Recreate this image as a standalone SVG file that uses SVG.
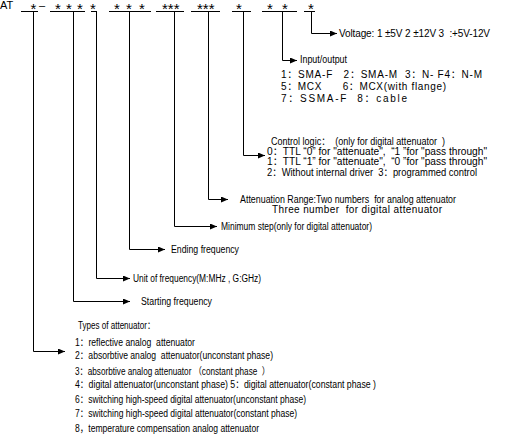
<svg xmlns="http://www.w3.org/2000/svg" width="505" height="442" viewBox="0 0 505 442" xml:space="preserve">
<style>
text{font-family:"Liberation Sans","Noto Sans CJK SC",Arial,sans-serif;font-size:10px;fill:#000;white-space:pre}
.st{font-size:15px}
.ln{stroke:#000;stroke-width:1;fill:none}
</style>
<defs>
<marker id="ah" markerUnits="userSpaceOnUse" markerWidth="8" markerHeight="6" refX="7" refY="3" orient="auto">
<path d="M0,0 L7,3 L0,6 Z" fill="#000"/>
</marker>
</defs>
<rect width="505" height="442" fill="#fff"/>
<g id="code">
<text x="0" y="9" style="font-size:11px">AT</text>
<text x="39" y="9" style="font-size:11px">–</text>
<text class="st" x="30.5" y="14">*</text>
<text class="st" x="55" y="14">*</text>
<text class="st" x="66" y="14">*</text>
<text class="st" x="77" y="14">*</text>
<text class="st" x="90" y="14">*</text>
<text class="st" x="114" y="14">*</text>
<text class="st" x="126" y="14">*</text>
<text class="st" x="139" y="14">*</text>
<text class="st" x="162" y="14">***</text>
<text class="st" x="197" y="14">***</text>
<text class="st" x="236" y="14">*</text>
<text class="st" x="267" y="14">*</text>
<text class="st" x="282" y="14">*</text>
<text class="st" x="308" y="14">*</text>
<path class="ln" d="M21,11.5H38M50,11.5H85M91,11.5H97M109,11.5H151M156,11.5H184M191,11.5H220M232,11.5H251M262,11.5H297M304,11.5H315"/>
</g>
<g id="connectors">
<path class="ln" marker-end="url(#ah)" d="M311.5,11.5V33.5H337"/>
<path class="ln" marker-end="url(#ah)" d="M282.5,11.5V60.5H297"/>
<path class="ln" marker-end="url(#ah)" d="M243.5,11.5V155.5H265"/>
<path class="ln" marker-end="url(#ah)" d="M208.5,11.5V199.5H228"/>
<path class="ln" marker-end="url(#ah)" d="M174.5,11.5V226.5H217"/>
<path class="ln" marker-end="url(#ah)" d="M129.5,11.5V249.5H165"/>
<path class="ln" marker-end="url(#ah)" d="M96.5,11.5V278.5H130"/>
<path class="ln" marker-end="url(#ah)" d="M73.5,11.5V301.5H130"/>
<path class="ln" marker-end="url(#ah)" d="M33.5,11.5V351.5H65"/>
</g>
<g id="voltage">
<text x="339" y="37" textLength="151" lengthAdjust="spacing">Voltage: 1 ±5V 2 ±12V 3  :+5V-12V</text>
</g>
<g id="io">
<text x="300" y="63" textLength="47" lengthAdjust="spacingAndGlyphs">Input/output</text>
<text x="281" y="77.5" textLength="201" lengthAdjust="spacing">1：SMA-F   2：SMA-M  3：N- F4：N-M</text>
<text x="281" y="89.5" textLength="165" lengthAdjust="spacing">5：MCX      6：MCX(with flange)</text>
<text x="281" y="101.5" textLength="126" lengthAdjust="spacing">7：SSMA-F  8：cable</text>
</g>
<g id="control">
<text x="271" y="144.5" textLength="174" lengthAdjust="spacingAndGlyphs">Control logic：  (only for digital attenuator  )</text>
<text x="267" y="155" textLength="220" lengthAdjust="spacingAndGlyphs">0：TTL “0” for "attenuate",  “1 ”for "pass through"</text>
<text x="267" y="165" textLength="220" lengthAdjust="spacingAndGlyphs">1：TTL “1” for "attenuate",  “0 ”for "pass through"</text>
<text x="267" y="175.5" textLength="210" lengthAdjust="spacingAndGlyphs">2：Without internal driver  3：programmed control</text>
</g>
<g id="range">
<text x="240" y="202.5" textLength="216" lengthAdjust="spacingAndGlyphs">Attenuation Range:Two numbers  for analog attenuator</text>
<text x="272" y="212.5" textLength="170" lengthAdjust="spacing">Three number  for digital attenuator</text>
</g>
<g id="step">
<text x="221" y="229.5" textLength="151" lengthAdjust="spacingAndGlyphs">Minimum step(only for digital attenuator)</text>
</g>
<g id="ending">
<text x="171" y="252.5" textLength="68" lengthAdjust="spacingAndGlyphs">Ending frequency</text>
</g>
<g id="unit">
<text x="133" y="281.5" textLength="128" lengthAdjust="spacingAndGlyphs">Unit of frequency(M:MHz , G:GHz)</text>
</g>
<g id="starting">
<text x="141" y="304.5" textLength="71" lengthAdjust="spacingAndGlyphs">Starting frequency</text>
</g>
<g id="types">
<text x="78" y="328.5" textLength="77" lengthAdjust="spacingAndGlyphs">Types of attenuator：</text>
<text x="75" y="345.5" textLength="120" lengthAdjust="spacingAndGlyphs">1：reflective analog  attenuator</text>
<text x="75" y="358.5" textLength="198" lengthAdjust="spacingAndGlyphs">2：absorbtive analog  attenuator(unconstant phase)</text>
<text x="75" y="374.5" textLength="195" lengthAdjust="spacingAndGlyphs">3：absorbtive analog attenuator （constant phase  ）</text>
<text x="75" y="387.5" textLength="301" lengthAdjust="spacingAndGlyphs">4：digital attenuator(unconstant phase) 5：digital attenuator(constant phase )</text>
<text x="75" y="402.5" textLength="231" lengthAdjust="spacingAndGlyphs">6：switching high-speed digital attenuator(unconstant phase)</text>
<text x="75" y="416.5" textLength="222" lengthAdjust="spacingAndGlyphs">7：switching high-speed digital attenuator(constant phase)</text>
<text x="75" y="431.5" textLength="184" lengthAdjust="spacingAndGlyphs">8，temperature compensation analog attenuator</text>
</g>
</svg>
